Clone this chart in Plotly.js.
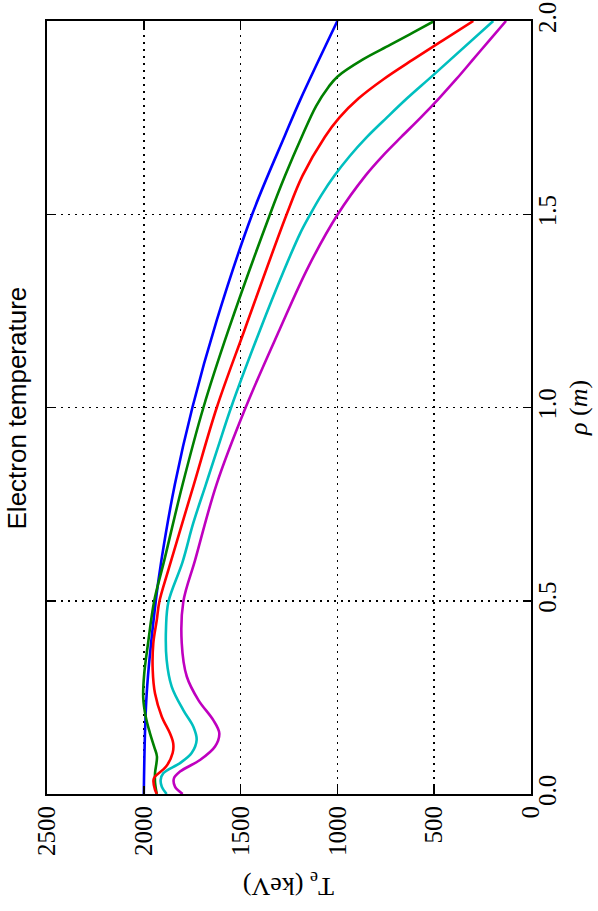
<!DOCTYPE html>
<html>
<head>
<meta charset="utf-8">
<script src="https://cdn.plot.ly/plotly-3.0.1.min.js"></script>
<style>html,body{margin:0;padding:0;background:#fff;}#chart{width:598px;height:911px;}</style>
</head>
<body>
<div id="chart"></div>
<script>
// rho (m) samples and Te (keV) values per curve
const rhoBlue = [0, 0.26, 0.5, 0.605, 0.8, 1.0, 1.226, 1.5, 1.705, 1.796, 2.0];
const teBlue  = [2000, 1985, 1938, 1909, 1840, 1749, 1623, 1440, 1270, 1192, 1000];

const rhoGreen = [0, 0.03, 0.054, 0.097, 0.12, 0.157, 0.2, 0.25, 0.31, 0.39, 0.5, 0.605, 0.8, 1.0, 1.2, 1.5, 1.6, 1.705, 1.78, 1.83, 1.856, 1.9, 1.938, 1.97, 2.0];
const teGreen  = [1933, 1942, 1942, 1932, 1945, 1968, 1990, 2003, 1998, 1978, 1946, 1894, 1800, 1692, 1563, 1348, 1270, 1180, 1110, 1045, 1000, 870, 728, 610, 500];

const rhoRed = [0, 0.011, 0.036, 0.045, 0.071, 0.106, 0.131, 0.157, 0.2, 0.26, 0.321, 0.39, 0.45, 0.497, 0.58, 0.8, 1.0, 1.2, 1.5, 1.6, 1.7, 1.75, 1.8, 1.85, 1.9, 1.95, 2.0];
const teRed  = [1932, 1942, 1950, 1942, 1885, 1851, 1848, 1865, 1907, 1942, 1954, 1951, 1933, 1920, 1873, 1742, 1623, 1480, 1262, 1180, 1065, 990, 890, 760, 610, 455, 298];

const rhoCyan = [0, 0.019, 0.036, 0.054, 0.08, 0.106, 0.14, 0.174, 0.217, 0.278, 0.347, 0.433, 0.497, 0.6, 0.7, 0.8, 0.9, 1.0, 1.2, 1.35, 1.45, 1.5, 1.55, 1.6, 1.65, 1.7, 1.75, 1.8, 1.86, 2.0];
const teCyan  = [1882, 1907, 1913, 1899, 1813, 1753, 1727, 1744, 1796, 1856, 1882, 1885, 1873, 1800, 1745, 1680, 1615, 1549, 1400, 1280, 1193, 1140, 1082, 1015, 937, 847, 745, 640, 505, 195];

const rhoMag = [0, 0.019, 0.041, 0.058, 0.088, 0.123, 0.157, 0.191, 0.243, 0.304, 0.39, 0.497, 0.605, 0.8, 1.0, 1.2, 1.364, 1.5, 1.6, 1.65, 1.7, 1.75, 1.8, 1.85, 1.9, 1.95, 2.0];
const teMag  = [1799, 1839, 1844, 1813, 1710, 1632, 1610, 1641, 1718, 1778, 1804, 1796, 1735, 1625, 1474, 1300, 1150, 998, 855, 768, 670, 570, 475, 385, 300, 215, 129];

const teTicks = [0, 500, 1000, 1500, 2000, 2500];
const rhoTicks = [0, 0.5, 1.0, 1.5, 2.0];
const rhoTickText = ['0.0', '0.5', '1.0', '1.5', '2.0'];

const colors = ['#0000ff', '#008000', '#ff0000', '#00bfbf', '#bf00bf'];
const series = [[teBlue, rhoBlue], [teGreen, rhoGreen], [teRed, rhoRed], [teCyan, rhoCyan], [teMag, rhoMag]];

const traces = series.map((s, i) => ({
  x: s[0], y: s[1], mode: 'lines', type: 'scatter',
  line: {color: colors[i], width: 2.6, shape: 'spline', smoothing: 1.0},
  hoverinfo: 'skip', showlegend: false
}));

const serif = 'Liberation Serif';
const layout = {
  width: 598, height: 911,
  margin: {l: 47, r: 67, t: 21, b: 117},
  paper_bgcolor: '#fff', plot_bgcolor: '#fff',
  showlegend: false,
  xaxis: {
    range: [2500, 0], tickvals: teTicks, ticktext: teTicks.map(String),
    tickangle: -90, tickfont: {family: serif, size: 25, color: '#000'},
    ticks: 'inside', ticklen: 8, tickwidth: 1.5, tickcolor: '#000',
    showline: true, linecolor: '#000', linewidth: 2, mirror: 'ticks',
    showgrid: true, gridcolor: '#000', griddash: '2px,5px', gridwidth: 1.5,
    zeroline: false, automargin: false
  },
  yaxis: {
    range: [0, 2], tickvals: rhoTicks, ticktext: rhoTickText, side: 'right',
    tickangle: -90, tickfont: {family: serif, size: 25, color: '#000'},
    ticks: 'inside', ticklen: 8, tickwidth: 1.5, tickcolor: '#000',
    ticklabelstandoff: -7,
    showline: true, linecolor: '#000', linewidth: 2, mirror: 'ticks',
    showgrid: true, gridcolor: '#000', griddash: '2px,5px', gridwidth: 1.5,
    zeroline: false, automargin: false
  },
  annotations: [
    {text: 'Electron temperature', xref: 'paper', yref: 'paper', x: -0.062, y: 0.5,
     xanchor: 'center', yanchor: 'middle', textangle: -90, showarrow: false,
     font: {family: 'Liberation Sans', size: 26, color: '#000'}},
    {text: '<i>ρ</i> (<i>m</i>)', xref: 'paper', yref: 'paper', x: 1.098, y: 0.5,
     xanchor: 'center', yanchor: 'middle', textangle: -90, showarrow: false,
     font: {family: serif, size: 26, color: '#000'}},
    {text: 'T<sub>e</sub> (keV)', xref: 'paper', yref: 'paper', x: 0.5, y: -0.117,
     xanchor: 'center', yanchor: 'middle', textangle: 180, showarrow: false,
     font: {family: serif, size: 26, color: '#000'}}
  ]
};

Plotly.newPlot('chart', traces, layout, {staticPlot: true, displayModeBar: false});
</script>
</body>
</html>
